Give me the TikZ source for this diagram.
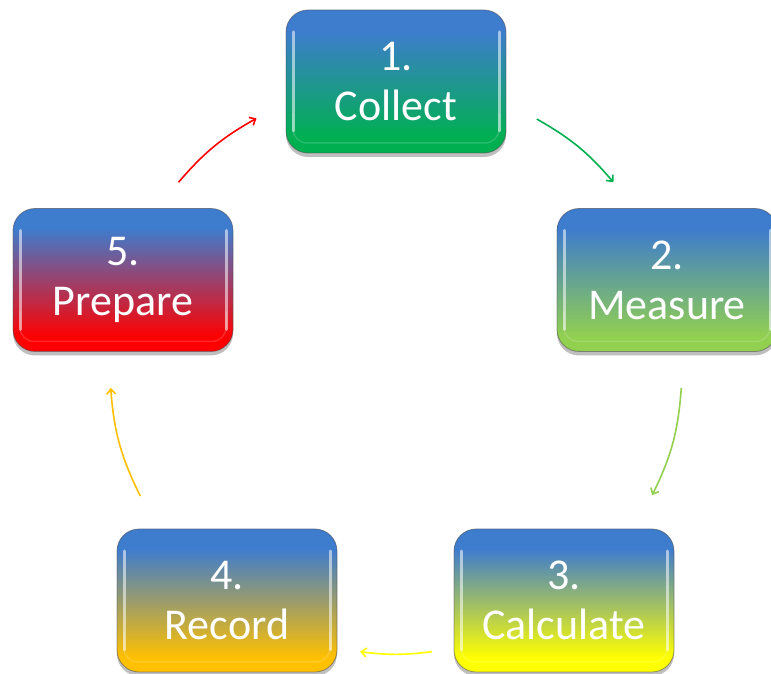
\documentclass[tikz,border=0pt]{standalone}
\usepackage{fontspec}
\setmainfont{Carlito}
\usetikzlibrary{arrows.meta,shadows}
\definecolor{boxblue}{RGB}{62,124,206}
\definecolor{cgreen}{RGB}{0,176,80}
\definecolor{clgreen}{RGB}{146,208,80}
\definecolor{cyellow}{RGB}{255,255,0}
\definecolor{corange}{RGB}{255,192,0}
\definecolor{cred}{RGB}{255,0,0}
\pgfdeclareverticalshading{shA}{100bp}{color(0bp)=(cgreen); color(30bp)=(cgreen); color(68bp)=(boxblue); color(100bp)=(boxblue)}
\pgfdeclareverticalshading{shB}{100bp}{color(0bp)=(clgreen); color(30bp)=(clgreen); color(68bp)=(boxblue); color(100bp)=(boxblue)}
\pgfdeclareverticalshading{shC}{100bp}{color(0bp)=(cyellow); color(30bp)=(cyellow); color(68bp)=(boxblue); color(100bp)=(boxblue)}
\pgfdeclareverticalshading{shD}{100bp}{color(0bp)=(corange); color(30bp)=(corange); color(68bp)=(boxblue); color(100bp)=(boxblue)}
\pgfdeclareverticalshading{shE}{100bp}{color(0bp)=(cred); color(30bp)=(cred); color(68bp)=(boxblue); color(100bp)=(boxblue)}
\tikzset{
  stepbox/.style={rectangle, rounded corners=22pt, minimum width=220pt, minimum height=143pt,
    inner sep=0pt, text=white, align=center,
    font=\fontsize{44}{50}\selectfont,
    drop shadow={shadow xshift=0pt, shadow yshift=-4pt, opacity=0.25, fill=black},
    shading=#1,
    draw=black!70, draw opacity=0.55, line width=0.8pt,
    path picture={
      \draw[white, opacity=0.55, line width=3pt, line cap=round]
        ([xshift=7pt,yshift=22pt]path picture bounding box.south west) --
        ([xshift=7pt,yshift=-22pt]path picture bounding box.north west);
      \draw[white, opacity=0.55, line width=3pt, line cap=round]
        ([xshift=-7pt,yshift=22pt]path picture bounding box.south east) --
        ([xshift=-7pt,yshift=-22pt]path picture bounding box.north east);
      \draw[white, opacity=0.15, line width=1.5pt, rounded corners=14pt]
        ([xshift=7pt,yshift=40pt]path picture bounding box.south west) --
        ([xshift=7pt,yshift=10pt]path picture bounding box.south west) --
        ([xshift=-7pt,yshift=10pt]path picture bounding box.south east) --
        ([xshift=-7pt,yshift=40pt]path picture bounding box.south east);
    }},
  cyclearrow/.style={line width=1.6pt, -{Straight Barb[length=5pt,width=9pt]}}
}
\begin{document}
\begin{tikzpicture}[x=1pt,y=1pt]
\useasboundingbox (0,0) rectangle (771,674);
\fill[white] (0,0) rectangle (771,674);
\coordinate (c) at (396,306);
\node[stepbox=shA] (n1) at (396,592.5) {1.\\Collect};
\node[stepbox=shB] (n2) at (667,394) {2.\\Measure};
\node[stepbox=shC] (n3) at (564,73.5) {3.\\Calculate};
\node[stepbox=shD] (n4) at (227,73.5) {4.\\Record};
\node[stepbox=shE] (n5) at (123,394) {5.\\Prepare};
% arrow end points on a circle around the cycle centre
\coordinate (a12s) at ([shift={(60.5:286pt)}]c);
\coordinate (a12e) at ([shift={(40.5:286pt)}]c);
\coordinate (a23s) at ([shift={(-4:286pt)}]c);
\coordinate (a23e) at ([shift={(-26.4:286pt)}]c);
\coordinate (a34s) at ([shift={(-82.8:286pt)}]c);
\coordinate (a34e) at ([shift={(-97.2:286pt)}]c);
\coordinate (a45s) at ([shift={(-153.4:286pt)}]c);
\coordinate (a45e) at ([shift={(-176:286pt)}]c);
\coordinate (a51s) at ([shift={(139.5:286pt)}]c);
\coordinate (a51e) at ([shift={(119.2:286pt)}]c);
\draw[cyclearrow, cgreen] (a12s) to[bend left=10] (a12e);
\draw[cyclearrow, clgreen] (a23s) to[bend left=11] (a23e);
\draw[cyclearrow, cyellow] (a34s) to[bend left=7] (a34e);
\draw[cyclearrow, corange] (a45s) to[bend left=11] (a45e);
\draw[cyclearrow, cred] (a51s) to[bend left=10] (a51e);
\end{tikzpicture}
\end{document}
